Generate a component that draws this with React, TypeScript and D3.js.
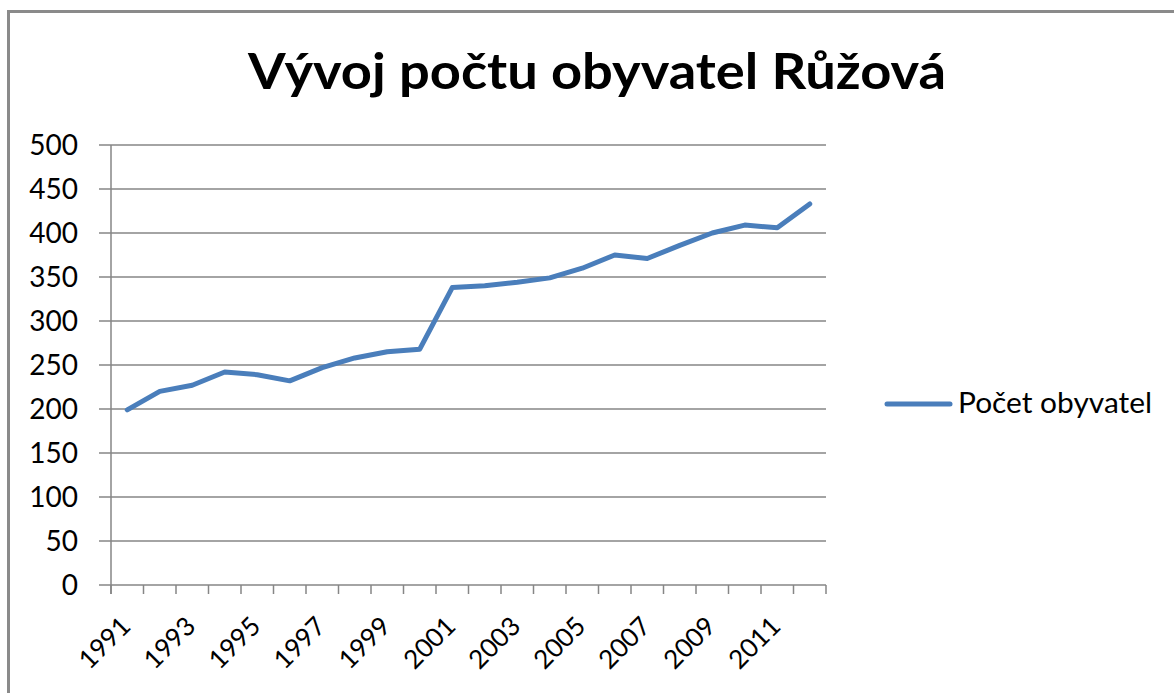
import React from 'react';
import * as d3 from 'd3';

const years = ['1991', '1992', '1993', '1994', '1995', '1996', '1997', '1998', '1999', '2000', '2001',
    '2002', '2003', '2004', '2005', '2006', '2007', '2008', '2009', '2010', '2011', '2012'];
const population = [199, 220, 227, 242, 239, 232, 247, 258, 265, 268, 338,
    340, 344, 349, 360, 375, 371, 386, 400, 409, 406, 433];
const yTicks = [0, 50, 100, 150, 200, 250, 300, 350, 400, 450, 500];
const title = 'Vývoj počtu obyvatel Růžová';
const seriesName = 'Počet obyvatel';

const WIDTH = 1174,
    HEIGHT = 693;

const PLOT = {
    LEFT: 111,
    RIGHT: 826,
    TOP: 145,
    BOTTOM: 585
};

const LINE_COLOR = '#4A7EBB';
const AXIS_COLOR = '#868686';
const FONT = 'Lato, "Open Sans", sans-serif';

const App = () => {
    const xScale = d3.scaleBand().domain(years).range([PLOT.LEFT, PLOT.RIGHT]);
    const yScale = d3.scaleLinear().domain([0, 500]).range([PLOT.BOTTOM, PLOT.TOP]);
    const xMid = (y: string) => (xScale(y) as number) + xScale.bandwidth() / 2;

    const line = d3.line<number>()
        .x((_, i) => xMid(years[i]))
        .y(d => yScale(d));

    // tick marks sit on the band edges, one more than there are years
    const xTickEdges = years.map(y => xScale(y) as number).concat([PLOT.RIGHT]);

    return (
        <svg width={WIDTH} height={HEIGHT} style={{ position: 'absolute', left: 0, top: 0, background: '#fff' }}>
            <rect x={8.5} y={11.5} width={1200} height={700} fill='#fff' stroke='#8a8a8a' strokeWidth={3} />

            <text x={597} y={89} textAnchor='middle' textLength={698} lengthAdjust='spacingAndGlyphs'
                fontFamily={FONT} fontWeight={700} fontSize={50} fill='#000'>
                {title}
            </text>

            <g>
                {yTicks.map(t => (
                    <g key={`grid-${t}`}>
                        <line x1={PLOT.LEFT - 12} x2={PLOT.RIGHT} y1={yScale(t)} y2={yScale(t)} stroke={AXIS_COLOR} strokeWidth={1.5} />
                        <text x={78} y={yScale(t)} dy='0.36em' textAnchor='end' fontFamily={FONT} fontSize={28} fill='#000'>{t}</text>
                    </g>
                ))}
            </g>

            <line x1={PLOT.LEFT} x2={PLOT.LEFT} y1={PLOT.TOP} y2={PLOT.BOTTOM + 9} stroke={AXIS_COLOR} strokeWidth={1.5} />

            <g>
                {xTickEdges.map((x, i) => (
                    <line key={`xt-${i}`} x1={x} x2={x} y1={PLOT.BOTTOM} y2={PLOT.BOTTOM + 9} stroke={AXIS_COLOR} strokeWidth={1.5} />
                ))}
                {years.map((y, i) => i % 2 === 0 ? (
                    <text key={`xl-${y}`}
                        transform={`translate(${xMid(y) - 8},${PLOT.BOTTOM + 30}) rotate(-45)`}
                        textAnchor='end' dy='0.7em' fontFamily={FONT} fontSize={26} fill='#000'>
                        {y}
                    </text>
                ) : null)}
            </g>

            <path d={line(population) || ''} fill='none' stroke={LINE_COLOR} strokeWidth={5} strokeLinejoin='round' strokeLinecap='round' />

            <g>
                <line x1={887} x2={950} y1={404} y2={404} stroke={LINE_COLOR} strokeWidth={5} strokeLinecap='round' />
                <text x={958} y={413} textLength={194} lengthAdjust='spacingAndGlyphs'
                    fontFamily={FONT} fontSize={28} fill='#000'>{seriesName}</text>
            </g>
        </svg>
    );
}

export default App;
